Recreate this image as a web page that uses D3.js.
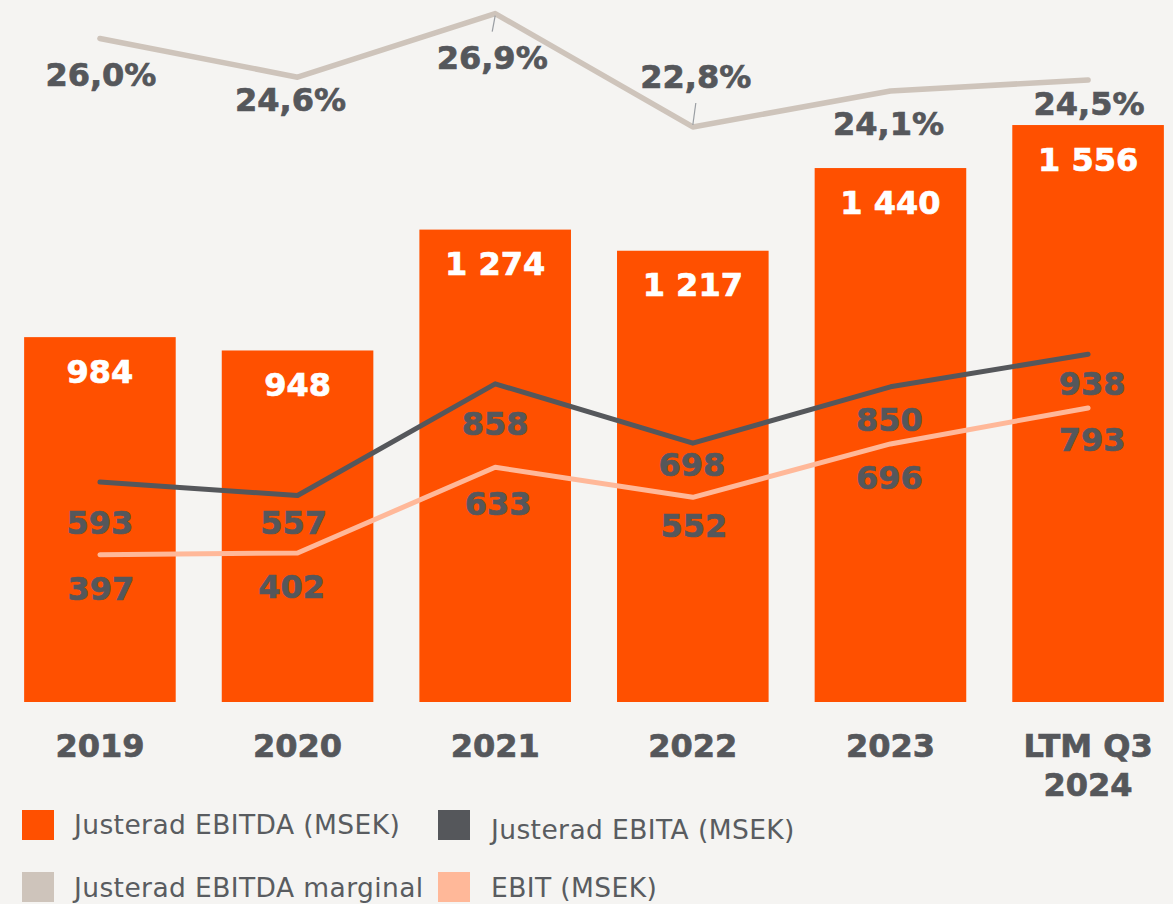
<!DOCTYPE html>
<html>
<head>
<meta charset="utf-8">
<script src="https://cdn.jsdelivr.net/npm/d3@7"></script>
<style>
  html, body { margin: 0; padding: 0; background: #f5f4f2; }
  svg { display: block; font-family: "DejaVu Sans", Verdana, sans-serif; }
</style>
</head>
<body>
<div id="chart"></div>
<script>
// chart values
const categories = ["2019", "2020", "2021", "2022", "2023", "LTM Q3\n2024"];
const ebitda = [984, 948, 1274, 1217, 1440, 1556];
const ebita = [593, 557, 858, 698, 850, 938];
const ebit = [397, 402, 633, 552, 696, 793];
const margin = [26.0, 24.6, 26.9, 22.8, 24.1, 24.5];
const seriesNames = ["Justerad EBITDA (MSEK)", "Justerad EBITA (MSEK)", "Justerad EBITDA marginal", "EBIT (MSEK)"];

// hand placed label offsets (as in the original slide)
const marginLabelDx = [1, -7, -3, 3, -2, 1];
const marginLabelDy = [36, 22, 44, -50, 32, 24];
const ebitaLabelDx = [0, -4, 0, -1, -1, 4];
const ebitaLabelDy = [40, 27, 40, 21, 33, 29];
const ebitLabelDx = [1, -6, 3, 1, -1, 4];
const ebitLabelDy = [34, 34, 36, 28, 34, 32];

const width = 1173;
const height = 904;
const orange = "#ff5000";
const dark = "#55575b";
const peach = "#ffb899";
const taupe = "#cec4bb";
const fmt = v => d3.format(",")(v).replace(/,/g, " ");
const fmtPct = v => v.toFixed(1).replace(".", ",") + "%";

const svg = d3.select("#chart")
  .append("svg")
    .attr("width", width)
    .attr("height", height);

svg.append("rect")
  .attr("width", width)
  .attr("height", height)
  .attr("fill", "#f5f4f2");

const x = d3.scaleBand()
  .domain(categories)
  .range([1, 1187])
  .paddingInner(0.233)
  .paddingOuter(0.117);

const y = d3.scaleLinear()
  .domain([0, 1600])
  .range([702, 702 - 1600 * 0.3708]);

const yPct = d3.scaleLinear()
  .domain([22, 27])
  .range([149.1, 10.8]);

const cx = (d, i) => x(categories[i]) + x.bandwidth() / 2;

// bars
svg.selectAll("rect.bar")
  .data(ebitda)
  .enter()
  .append("rect")
    .attr("class", "bar")
    .attr("x", (d, i) => x(categories[i]))
    .attr("y", d => y(d))
    .attr("width", x.bandwidth())
    .attr("height", d => y(0) - y(d))
    .attr("fill", orange);

function drawLine(values, scale, color, w) {
  const line = d3.line()
    .x((d, i) => cx(d, i))
    .y(d => scale(d));
  svg.append("path")
    .datum(values)
    .attr("d", line)
    .attr("fill", "none")
    .attr("stroke", color)
    .attr("stroke-width", w)
    .attr("stroke-linecap", "round")
    .attr("stroke-linejoin", "round");
}

drawLine(ebit, y, peach, 5);
drawLine(ebita, y, dark, 5);
drawLine(margin, yPct, taupe, 5.5);

// leader lines for the margin labels that sit close to a peak
[2, 3].forEach(i => {
  const px = cx(margin[i], i);
  const py = yPct(margin[i]);
  const dir = marginLabelDy[i] > 0 ? 1 : -1;
  svg.append("line")
    .attr("x1", px)
    .attr("y1", py + dir * 2)
    .attr("x2", px + marginLabelDx[i])
    .attr("y2", py + marginLabelDy[i] - dir * 26)
    .attr("stroke", "#9a9ea3")
    .attr("stroke-width", 1.2);
});

function labels(values, scale, fmtFn, dx, dy, color) {
  svg.append("g")
    .selectAll("text")
    .data(values)
    .enter()
    .append("text")
      .attr("x", (d, i) => cx(d, i) + dx[i])
      .attr("y", (d, i) => scale(d) + dy[i])
      .attr("dy", "0.36em")
      .attr("text-anchor", "middle")
      .attr("font-size", 32)
      .attr("font-weight", "bold")
      .attr("fill", color)
      .attr("stroke", color)
      .attr("stroke-width", 0.7)
      .text(fmtFn);
}

labels(ebitda, y, fmt, ebitda.map(() => 0), ebitda.map(() => 34), "#ffffff");
labels(ebita, y, fmt, ebitaLabelDx, ebitaLabelDy, dark);
labels(ebit, y, fmt, ebitLabelDx, ebitLabelDy, dark);
labels(margin, yPct, fmtPct, marginLabelDx, marginLabelDy, dark);

// x axis
const xAxis = svg.append("g")
  .attr("transform", "translate(0,702)")
  .call(d3.axisBottom(x).tickSize(0).tickFormat(""))
  .attr("font-family", null)
  .attr("font-size", null);
xAxis.select(".domain").remove();
xAxis.selectAll(".tick text").remove();
xAxis.selectAll(".tick")
  .append("text")
    .attr("text-anchor", "middle")
    .attr("font-size", 32)
    .attr("font-weight", "bold")
    .attr("fill", dark)
    .attr("stroke", dark)
    .attr("stroke-width", 0.7)
    .each(function(d) {
      const lines = d.split("\n");
      d3.select(this).selectAll("tspan")
        .data(lines)
        .enter()
        .append("tspan")
          .attr("x", 0)
          .attr("y", (l, j) => 43 + j * 39)
          .attr("dy", "0.36em")
          .text(l => l);
    });

// legend
const legendColors = [orange, dark, taupe, peach];
const legend = svg.append("g");
const items = legend.selectAll("g")
  .data(seriesNames)
  .enter()
  .append("g")
    .attr("transform", (d, i) => "translate(" + (i % 2 === 0 ? 22 : 438) + "," + (i < 2 ? 810 : 872) + ")");
items.append("rect")
  .attr("width", 32)
  .attr("height", 30)
  .attr("fill", (d, i) => legendColors[i]);
items.append("text")
  .attr("x", (d, i) => i % 2 === 0 ? 52 : 53)
  .attr("y", (d, i) => i === 1 ? 19 : (i === 0 ? 14 : 15))
  .attr("dy", "0.36em")
  .attr("font-size", 26.5)
  .attr("letter-spacing", 0.4)
  .attr("fill", "#595c60")
  .text(d => d);
</script>
</body>
</html>
